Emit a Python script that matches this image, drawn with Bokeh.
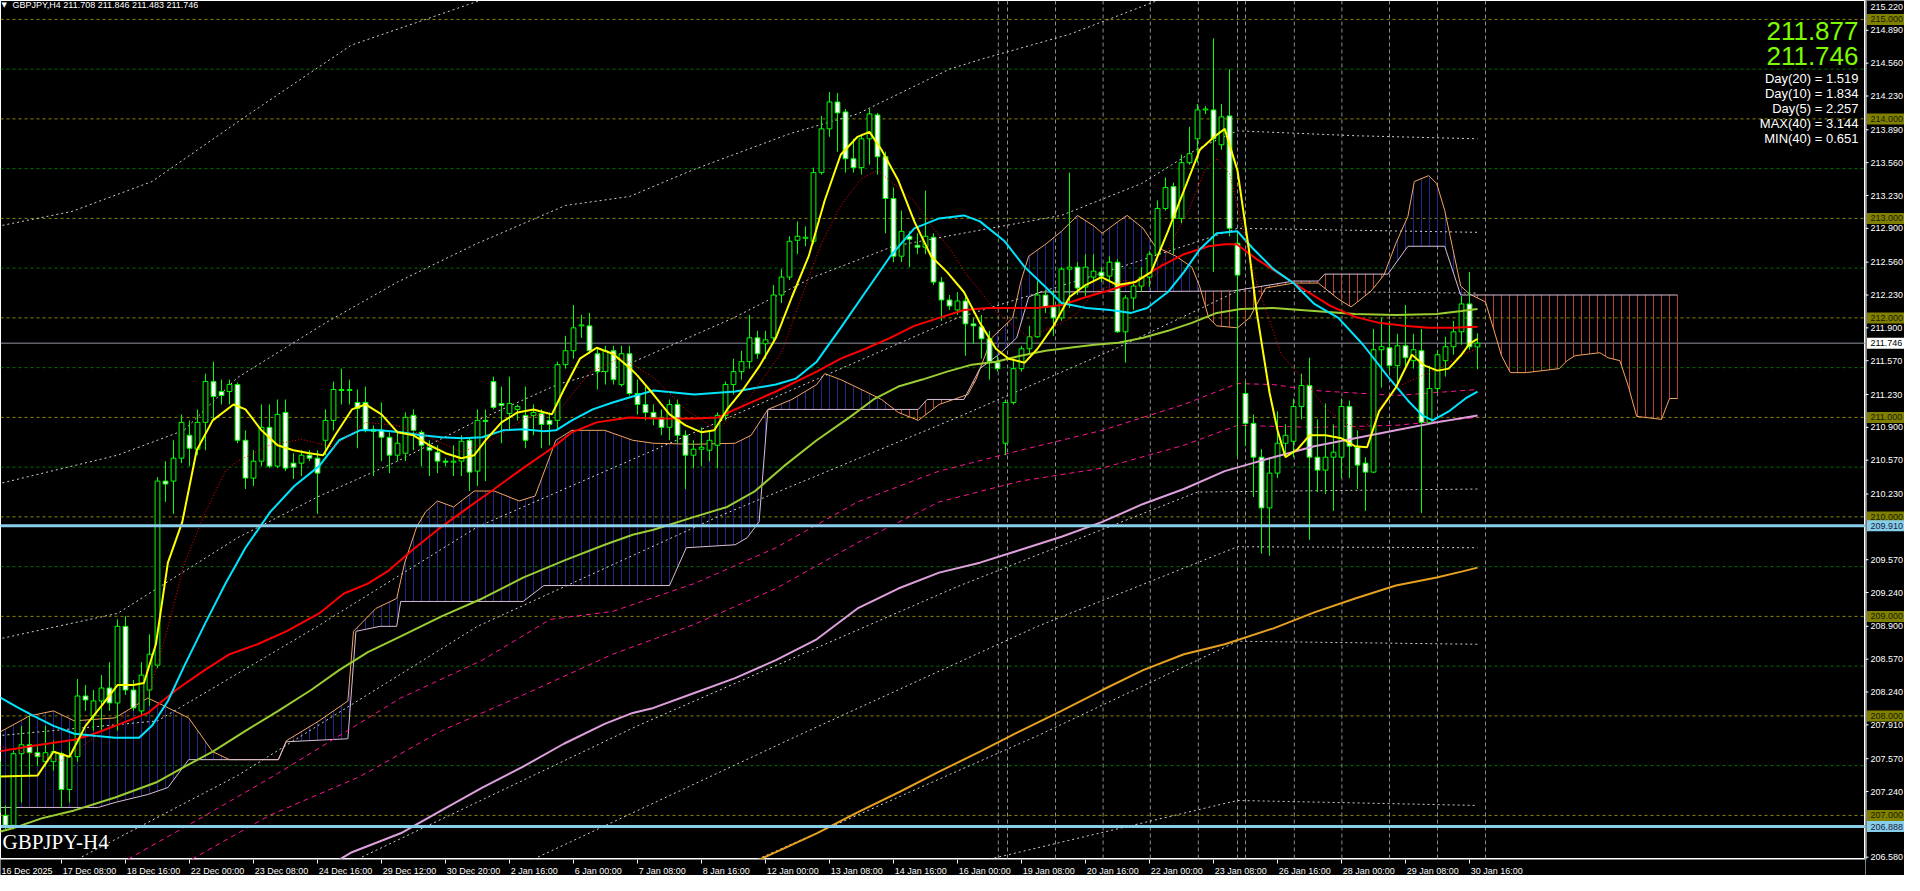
import numpy as np
from bokeh.plotting import figure
from bokeh.models import Range1d, Span
from bokeh.layouts import row, column
from bokeh.embed import file_html
from bokeh.resources import INLINE
from bokeh.core.properties import value

# ---------------------------------------------------------------- data
header_text = "GBPJPY,H4  211.708 211.846 211.483 211.746"
chart_name = "GBPJPY-H4"
big_prices = ["211.877", "211.746"]
stats_lines = ["Day(20) = 1.519", "Day(10) = 1.834", "Day(5) = 2.257",
               "MAX(40) = 3.144", "MIN(40) = 0.651"]

time_labels = ["16 Dec 2025", "17 Dec 08:00", "18 Dec 16:00", "22 Dec 00:00",
               "23 Dec 08:00", "24 Dec 16:00", "29 Dec 12:00", "30 Dec 20:00",
               "2 Jan 16:00", "6 Jan 00:00", "7 Jan 08:00", "8 Jan 16:00",
               "12 Jan 00:00", "13 Jan 08:00", "14 Jan 16:00", "16 Jan 00:00",
               "19 Jan 08:00", "20 Jan 16:00", "22 Jan 00:00", "23 Jan 08:00",
               "26 Jan 16:00", "28 Jan 00:00", "29 Jan 08:00", "30 Jan 16:00"]
time_label_bars = list(range(0, 8 * len(time_labels), 8))

price_ticks = [215.220, 214.890, 214.560, 214.230, 213.890, 213.560, 213.230,
               212.900, 212.560, 212.230, 211.900, 211.570, 211.230, 210.900,
               210.570, 210.230, 209.570, 209.240, 208.900, 208.570, 208.240,
               207.910, 207.570, 207.240, 206.580]
level_lines = [215.0, 214.0, 213.0, 212.0, 211.0, 210.0, 209.0, 208.0, 207.0]
half_lines = [214.5, 213.5, 212.5, 211.5, 210.5, 209.5, 208.5, 207.5]
support_lines = [209.910, 206.888]
last_price = 211.746
day_separators = [125.1, 126.25, 132.25, 138.2, 144.1, 150.1, 155.0, 156.0,
                  162.1, 168.05, 174.0, 180.0, 186.0]

opens = [
    207.54, 207.00, 206.90, 207.62, 207.71, 207.63, 207.54, 207.54, 207.62, 207.26,
    207.59, 208.20, 208.00, 208.15, 208.28, 208.13, 208.90, 208.26, 208.05, 208.26,
    208.51, 210.36, 210.36, 210.59, 210.82, 210.68, 210.95, 211.36, 211.26, 211.26,
    211.33, 210.77, 210.39, 210.56, 210.90, 210.51, 211.05, 210.54, 210.54, 210.62,
    210.59, 210.77, 210.97, 211.28, 211.27, 211.15, 211.15, 210.88, 210.87, 210.80,
    210.62, 210.64, 211.02, 210.85, 210.70, 210.65, 210.56, 210.55, 210.56, 210.77,
    210.46, 210.97, 211.36, 211.14, 211.04, 211.08, 211.02, 211.02, 211.04, 210.97,
    210.97, 211.53, 211.67, 211.92, 211.92, 211.64, 211.46, 211.67, 211.33, 211.64,
    211.24, 211.13, 211.05, 211.00, 210.90, 211.13, 210.82, 210.62, 210.68, 210.67,
    210.72, 211.02, 211.33, 211.46, 211.56, 211.80, 211.74, 211.80, 212.23, 212.41,
    212.78, 212.80, 212.77, 213.46, 213.90, 214.17, 214.07, 213.60, 213.51, 213.80,
    214.04, 213.62, 213.20, 212.62, 212.82, 212.73, 212.71, 212.81, 212.36, 212.18,
    212.08, 212.17, 211.94, 211.91, 211.79, 211.55, 210.74, 211.15, 211.49, 211.69,
    211.81, 212.23, 212.11, 212.00, 212.49, 212.51, 212.31, 212.41, 212.46, 212.42,
    212.56, 211.86, 212.20, 212.32, 212.41, 212.64, 213.10, 213.32, 213.00, 213.56,
    213.80, 214.09, 214.09, 213.74, 214.03, 212.75, 211.24, 210.94, 210.60, 210.09,
    210.44, 210.74, 210.76, 211.11, 211.32, 210.60, 210.47, 210.60, 210.60, 211.11,
    210.70, 210.54, 210.45, 211.68, 211.70, 211.52, 211.72, 211.57, 211.67, 210.95,
    211.29, 211.57, 211.71, 211.86, 212.14, 211.708]
highs = [
    207.60, 207.10, 207.65, 207.90, 208.00, 207.70, 207.90, 207.75, 207.64, 207.74,
    208.37, 208.31, 208.26, 208.41, 208.54, 208.97, 209.00, 208.36, 208.54, 208.82,
    210.40, 210.56, 210.77, 211.03, 210.97, 211.08, 211.44, 211.56, 211.38, 211.38,
    211.35, 210.87, 210.67, 211.13, 211.13, 211.18, 211.18, 210.64, 210.67, 210.67,
    210.67, 211.08, 211.36, 211.49, 211.38, 211.28, 211.31, 210.92, 211.15, 210.85,
    210.87, 211.05, 211.08, 210.87, 210.77, 210.72, 210.59, 210.72, 210.82, 210.80,
    211.08, 211.08, 211.41, 211.31, 211.41, 211.13, 211.31, 211.13, 211.08, 211.05,
    211.56, 211.82, 212.13, 212.03, 212.05, 211.69, 211.72, 211.72, 211.72, 211.72,
    211.38, 211.31, 211.13, 211.08, 211.18, 211.18, 210.87, 210.77, 210.90, 210.87,
    211.05, 211.36, 211.59, 211.67, 212.03, 211.87, 211.87, 212.33, 212.49, 212.82,
    212.97, 212.92, 213.51, 214.03, 214.27, 214.26, 214.10, 213.80, 213.85, 214.10,
    214.06, 213.67, 213.31, 213.08, 212.87, 212.85, 213.28, 212.85, 212.41, 212.23,
    212.26, 212.21, 212.00, 212.03, 211.87, 211.62, 211.18, 211.59, 211.72, 211.92,
    212.37, 212.28, 212.28, 212.51, 213.46, 212.56, 212.64, 212.64, 212.51, 212.62,
    212.59, 212.23, 212.36, 212.51, 212.67, 213.18, 213.41, 213.36, 213.64, 213.92,
    214.15, 214.13, 214.81, 214.15, 214.50, 212.85, 211.36, 211.03, 210.68, 210.60,
    211.06, 210.93, 211.19, 211.44, 211.60, 210.98, 211.14, 210.93, 211.19, 211.17,
    210.87, 210.60, 211.89, 212.00, 211.97, 211.84, 212.13, 211.84, 211.89, 211.52,
    211.68, 211.81, 211.97, 212.22, 212.46, 211.846]
lows = [
    206.98, 206.86, 206.86, 207.13, 207.39, 207.50, 207.49, 207.45, 207.08, 207.13,
    207.54, 208.05, 207.85, 207.85, 208.05, 207.85, 208.21, 208.05, 208.00, 208.10,
    208.48, 210.15, 210.03, 210.54, 210.51, 210.62, 210.67, 210.97, 211.13, 211.13,
    210.74, 210.28, 210.31, 210.51, 210.49, 210.49, 210.46, 210.38, 210.41, 210.56,
    210.03, 210.62, 210.87, 211.13, 211.13, 210.69, 210.85, 210.41, 210.56, 210.44,
    210.56, 210.56, 210.67, 210.51, 210.41, 210.44, 210.51, 210.41, 210.41, 210.26,
    210.31, 210.36, 211.08, 210.74, 210.87, 210.97, 210.69, 210.82, 210.69, 210.72,
    210.87, 211.49, 211.59, 211.80, 211.64, 211.28, 211.33, 211.33, 211.31, 211.22,
    211.03, 210.97, 210.92, 210.82, 210.77, 210.74, 210.28, 210.49, 210.51, 210.56,
    210.49, 210.97, 211.23, 211.38, 211.49, 211.59, 211.59, 211.74, 212.15, 212.38,
    212.64, 212.72, 212.74, 213.44, 213.82, 213.67, 213.46, 213.46, 213.44, 213.54,
    213.44, 212.85, 212.56, 212.56, 212.51, 212.64, 212.64, 212.33, 211.97, 212.08,
    212.03, 211.62, 211.74, 211.59, 211.38, 211.46, 210.62, 211.13, 211.46, 211.64,
    211.80, 212.05, 211.82, 211.97, 212.10, 212.23, 212.21, 212.38, 212.36, 212.36,
    211.85, 211.55, 212.08, 212.26, 212.31, 212.62, 213.08, 212.64, 212.95, 213.54,
    213.56, 214.05, 212.46, 213.69, 212.82, 210.60, 210.71, 210.20, 209.63, 209.61,
    210.39, 210.60, 210.60, 210.98, 209.77, 210.25, 210.23, 210.06, 210.39, 210.39,
    210.28, 210.06, 210.44, 211.30, 211.46, 211.30, 211.52, 211.49, 210.04, 210.93,
    211.25, 211.41, 211.63, 211.73, 211.68, 211.483]
closes = [
    207.03, 206.90, 207.62, 207.71, 207.63, 207.59, 207.63, 207.64, 207.26, 207.59,
    208.20, 208.16, 208.15, 208.28, 208.13, 208.90, 208.26, 208.08, 208.41, 208.62,
    210.36, 210.33, 210.59, 210.95, 210.69, 210.95, 211.36, 211.21, 211.22, 211.33,
    210.77, 210.39, 210.56, 210.90, 210.51, 211.03, 210.49, 210.50, 210.62, 210.59,
    210.44, 210.97, 211.28, 211.27, 211.28, 211.09, 210.87, 210.86, 210.80, 210.62,
    210.74, 211.00, 210.87, 210.72, 210.67, 210.56, 210.55, 210.56, 210.76, 210.45,
    210.97, 210.96, 211.10, 211.12, 211.14, 211.11, 210.77, 211.05, 210.93, 210.93,
    211.53, 211.67, 211.90, 211.93, 211.67, 211.46, 211.67, 211.38, 211.64, 211.24,
    211.13, 211.05, 211.00, 210.90, 211.13, 210.82, 210.62, 210.68, 210.70, 210.77,
    211.02, 211.33, 211.46, 211.56, 211.80, 211.64, 211.78, 212.23, 212.41, 212.77,
    212.82, 212.81, 213.46, 213.90, 214.17, 214.06, 213.60, 213.51, 213.80, 214.05,
    213.62, 213.20, 212.62, 212.87, 212.79, 212.71, 212.82, 212.36, 212.18, 212.12,
    212.17, 211.94, 211.92, 211.79, 211.56, 211.49, 211.15, 211.49, 211.69, 211.81,
    212.23, 212.11, 212.00, 212.49, 212.51, 212.30, 212.51, 212.47, 212.42, 212.56,
    211.86, 212.20, 212.32, 212.41, 212.64, 213.10, 213.31, 213.00, 213.56, 213.65,
    214.09, 214.10, 213.80, 214.02, 212.90, 212.43, 210.94, 210.60, 210.09, 210.44,
    210.74, 210.82, 211.11, 211.32, 210.60, 210.47, 210.60, 210.65, 211.11, 210.71,
    210.52, 210.45, 211.68, 211.71, 211.52, 211.72, 211.60, 211.68, 210.95, 211.29,
    211.63, 211.71, 211.86, 212.14, 211.71, 211.746]

# indicator lines: (bar index, price)
ma_fast_yellow = [(0, 207.39), (5, 207.40), (7, 207.64), (9, 207.59), (11, 207.90), (13, 208.10),
    (15, 208.31), (17, 208.31), (18.3, 208.33), (19.8, 208.72), (21.3, 209.54), (23.1, 209.95),
    (24.9, 210.67), (26.9, 210.97), (29.5, 211.13), (31, 211.08), (33, 210.87), (35, 210.72),
    (37, 210.67), (39, 210.64), (40.7, 210.62), (42.2, 210.82), (44.3, 211.08), (46, 211.13),
    (48, 211.03), (50, 210.85), (52, 210.82), (54, 210.72), (56, 210.64), (58, 210.59),
    (59.6, 210.62), (61, 210.77), (63, 210.95), (65, 211.05), (67, 211.08), (69.3, 211.03),
    (70.8, 211.28), (72.8, 211.59), (74.9, 211.70), (76.9, 211.64), (79, 211.50), (80, 211.42),
    (82, 211.23), (84, 211.03), (86, 210.92), (88, 210.85), (89.6, 210.87), (91.2, 211.08),
    (93.2, 211.28), (95.2, 211.51), (97.3, 211.80), (99.3, 212.21), (101.4, 212.62), (103.4, 213.18),
    (105.4, 213.64), (107.5, 213.82), (109, 213.87), (110.5, 213.69), (112.6, 213.38), (114.6, 212.97),
    (116.7, 212.62), (118.7, 212.46), (120.8, 212.26), (122.8, 211.95), (124.8, 211.69), (126.4, 211.59),
    (128.4, 211.55), (130, 211.69), (132, 211.92), (134, 212.21), (136, 212.33), (138, 212.41),
    (140, 212.33), (142.2, 212.36), (144.2, 212.46), (146.3, 212.87), (148.3, 213.28), (150.3, 213.69),
    (152.1, 213.82), (153.4, 213.90), (155, 213.48), (156.4, 212.70), (157.4, 212.06), (159, 211.25),
    (160, 210.87), (161, 210.60), (162.5, 210.68), (164, 210.82), (166, 210.82), (168, 210.79),
    (169.7, 210.71), (171.2, 210.70), (172.7, 211.06), (174.8, 211.30), (176.8, 211.63), (178.4, 211.52),
    (180, 211.47), (181.4, 211.49), (183, 211.63), (184, 211.74), (185, 211.79)]
ma_red_dotted = [(0, 207.70), (8, 207.55), (16, 208.0), (19, 208.25), (21, 208.8), (23.4, 209.54),
    (26, 210.05), (28.5, 210.46), (30, 210.56), (34, 210.72), (38, 210.78), (42, 210.70), (46, 210.95),
    (50, 210.92), (54, 210.80), (58, 210.65), (62, 210.78), (66, 211.0), (70, 211.05), (74, 211.45),
    (78, 211.60), (82, 211.40), (86, 211.08), (90, 210.87), (94, 211.20), (98, 211.65), (100, 212.10),
    (103, 212.75), (105.4, 213.13), (108, 213.40), (110, 213.48), (112, 213.35), (114.5, 213.18),
    (117, 212.90), (119, 212.70), (121, 212.45), (123, 212.25), (125, 212.05), (127, 211.92),
    (129, 211.80), (131, 211.88), (133, 211.95), (135, 212.05), (137, 212.25), (139, 212.32),
    (141, 212.38), (143, 212.30), (145, 212.45), (147, 212.80), (149, 213.10), (151, 213.50),
    (152.5, 213.60), (154, 213.45), (156, 212.80), (157.5, 212.32), (160.5, 211.63), (163.5, 211.36),
    (166, 211.09), (168.7, 210.93), (170.7, 210.87), (172.7, 211.09), (174.8, 211.30), (177.8, 211.41),
    (180.9, 211.52), (183, 211.63), (185, 211.69)]
ma_cyan = [(0, 208.20), (2.4, 208.09), (4.5, 208.0), (7, 207.90), (9.6, 207.82), (12.1, 207.80),
    (14.7, 207.78), (17.7, 207.78), (19.3, 207.90), (21.3, 208.15), (23.4, 208.51), (25.9, 208.92),
    (28.5, 209.33), (31, 209.69), (34.1, 210.05), (37.1, 210.31), (40.2, 210.51), (42.7, 210.77),
    (45.3, 210.87), (47.8, 210.87), (50.4, 210.85), (53, 210.82), (55.5, 210.80), (58.1, 210.79),
    (60.6, 210.80), (63.2, 210.87), (65.7, 210.88), (68.3, 210.86), (69.8, 210.87), (71.8, 210.97),
    (74.4, 211.08), (76.9, 211.15), (79.4, 211.21), (82, 211.27), (87.1, 211.23), (92.2, 211.26),
    (97.3, 211.33), (99.8, 211.39), (102.4, 211.56), (105.4, 211.90), (108.5, 212.26), (111.6, 212.62),
    (114.6, 212.90), (117.7, 213.0), (120.8, 213.03), (122.8, 212.97), (125.9, 212.77), (128.4, 212.51),
    (131, 212.31), (133, 212.15), (136.1, 212.10), (139.1, 212.08), (141.7, 212.05), (143.7, 212.10),
    (146.3, 212.26), (148.3, 212.46), (150.3, 212.69), (152.4, 212.85), (155, 212.87), (156.9, 212.70),
    (159.5, 212.49), (162, 212.35), (164.6, 212.14), (167.6, 212.0), (170.7, 211.73), (173.8, 211.41),
    (176.3, 211.17), (178.1, 211.02), (179.4, 210.97), (181.4, 211.06), (183.5, 211.19), (185, 211.26)]
ma_red = [(-0.1, 207.64), (4.5, 207.70), (9.6, 207.76), (12.1, 207.82), (14.7, 207.90), (18.8, 208.03),
    (22.3, 208.26), (25.9, 208.46), (29, 208.62), (32.5, 208.72), (36.1, 208.85), (40.2, 209.03),
    (43.3, 209.23), (46.3, 209.33), (48.9, 209.46), (51.9, 209.67), (55.5, 209.90), (58.6, 210.08),
    (62.1, 210.28), (65.7, 210.49), (69.3, 210.69), (71.8, 210.85), (74.9, 210.95), (79, 211.0),
    (82, 210.99), (87.1, 210.99), (90.1, 211.0), (92.2, 211.08), (97.3, 211.26), (102.4, 211.46),
    (105.4, 211.59), (108.5, 211.69), (111.6, 211.80), (114.6, 211.92), (117.7, 212.0), (120.8, 212.08),
    (123.8, 212.10), (126.9, 212.10), (129.9, 212.10), (133, 212.13), (136.1, 212.21), (139.1, 212.28),
    (142.2, 212.36), (145.2, 212.51), (148.3, 212.64), (151.4, 212.72), (153.4, 212.74), (154.9, 212.74),
    (157.4, 212.59), (160.5, 212.43), (163.6, 212.27), (166.6, 212.12), (169.7, 212.01), (172.7, 211.95),
    (175.8, 211.92), (178.9, 211.90), (181.9, 211.90), (185, 211.91)]
ma_yellowgreen = [(-0.5, 206.82), (1.9, 206.87), (5.5, 206.97), (9.6, 207.05), (14.7, 207.18),
    (19.8, 207.33), (23.4, 207.49), (26.9, 207.64), (31, 207.85), (35.1, 208.05), (39.2, 208.26),
    (42.7, 208.46), (46.3, 208.64), (50.4, 208.80), (55.5, 209.0), (60.6, 209.18), (65.7, 209.39),
    (70.8, 209.56), (75.9, 209.72), (79.4, 209.82), (82, 209.87), (87.1, 210.0), (91.2, 210.10),
    (94.7, 210.26), (98.3, 210.51), (102.4, 210.77), (106.5, 211.0), (109.5, 211.18), (112.6, 211.31),
    (115.6, 211.38), (118.7, 211.46), (121.8, 211.53), (124.8, 211.56), (127.9, 211.62), (131, 211.67),
    (134, 211.70), (137.1, 211.73), (140.1, 211.75), (143.2, 211.80), (146.3, 211.87), (149.3, 211.95),
    (152.4, 212.05), (155.4, 212.09), (159.5, 212.10), (164.6, 212.07), (169.7, 212.04), (174.8, 212.03),
    (179.9, 212.04), (183, 212.07), (185, 212.09)]
ma_plum = [(42.2, 206.53), (44.3, 206.63), (50.4, 206.82), (55.5, 207.05), (60.6, 207.28),
    (65.7, 207.49), (70.8, 207.72), (75.9, 207.92), (79.4, 208.03), (82, 208.08), (87.1, 208.23),
    (92.2, 208.38), (97.3, 208.56), (102.4, 208.77), (107.5, 209.08), (112.6, 209.28), (117.7, 209.44),
    (122.8, 209.54), (127.9, 209.67), (133, 209.80), (138.1, 209.95), (143.2, 210.13), (148.3, 210.28),
    (153.4, 210.46), (156.9, 210.54), (159.5, 210.60), (164.6, 210.71), (169.7, 210.79), (174.8, 210.87),
    (179.9, 210.95), (185, 211.02)]
ma_orange = [(94.5, 206.53), (97.3, 206.63), (102.4, 206.82), (107.5, 207.03), (112.6, 207.23),
    (117.7, 207.44), (122.8, 207.64), (127.9, 207.85), (133, 208.05), (138.1, 208.26), (143.2, 208.46),
    (148.3, 208.62), (153.4, 208.72), (159.5, 208.88), (164.6, 209.04), (169.7, 209.18), (174.8, 209.31),
    (179.9, 209.39), (183, 209.45), (185, 209.49)]
env_magenta_upper = [(16.3, 206.56), (26, 207.0), (35, 207.42), (50.4, 208.18), (60.6, 208.56),
    (69.1, 208.97), (76.9, 209.05), (87.1, 209.33), (97.3, 209.69), (107.5, 210.15), (117.7, 210.46),
    (127.9, 210.67), (138.1, 210.87), (148.3, 211.13), (155, 211.34), (159.5, 211.33), (164.6, 211.27),
    (174.8, 211.22), (185, 211.28)]
env_magenta_lower = [(24.3, 206.56), (34, 207.0), (45.3, 207.39), (55.5, 207.85), (65.7, 208.21),
    (76.9, 208.62), (87.1, 208.92), (97.3, 209.28), (107.5, 209.74), (117.7, 210.15), (127.9, 210.36),
    (138.1, 210.49), (148.3, 210.72), (155, 210.92), (164.6, 210.90), (174.8, 210.92), (185, 211.0)]
dotted_bands = [
    [(0, 212.92), (9.3, 213.07), (19.3, 213.37), (31.3, 214.04), (44.2, 214.74), (62.1, 215.24), (66, 215.3)],
    [(0, 210.33), (15, 210.62), (23.3, 210.87), (30, 211.40), (41, 211.95), (50, 212.36), (60, 212.75),
     (71, 213.13), (79, 213.22), (87, 213.49), (99, 213.85), (107.5, 214.05), (119, 214.50), (123, 214.6),
     (134, 214.85), (146, 215.22), (150, 215.35)],
    [(0, 208.77), (15, 209.03), (30, 209.79), (40, 210.20), (50, 210.56), (60, 210.97), (70, 211.33),
     (79, 211.54), (92, 212.0), (102, 212.41), (112, 212.72), (122, 212.87), (133, 213.03), (143, 213.35),
     (150, 213.7), (155, 213.88), (170, 213.83), (185, 213.80)],
    [(0, 207.80), (20, 207.95), (40, 208.9), (60, 209.9), (80, 210.6), (100, 211.3), (120, 212.0),
     (140, 212.5), (155, 212.90), (185, 212.86)],
    [(10, 206.56), (30, 207.4), (60, 208.9), (90, 210.0), (120, 211.0), (140, 211.7), (155, 212.27), (185, 212.25)],
    [(45, 206.56), (80, 207.9), (120, 209.3), (150, 210.25), (185, 210.28)],
    [(67, 206.56), (100, 207.8), (130, 208.9), (155, 209.70), (185, 209.69)],
    [(95, 206.56), (130, 207.8), (155, 208.75), (185, 208.72)],
    [(124, 206.56), (155, 207.15), (185, 207.10)],
]
senkou_a = [(-0.1, 207.82), (4, 208.0), (7, 208.05), (9.6, 207.95), (14.7, 207.98), (18.8, 208.18),
    (23.9, 207.98), (26.9, 207.64), (29, 207.56), (35.1, 207.56), (36.1, 207.75), (40.2, 207.95),
    (43.8, 208.15), (44.5, 208.85), (47.3, 209.08), (49.9, 209.18), (50.9, 209.54), (52.4, 209.90),
    (53.5, 210.05), (55, 210.16), (57, 210.10), (59.6, 210.26), (62.1, 210.26), (65.2, 210.16),
    (67.2, 210.21), (69.8, 210.77), (71.8, 210.87), (75.9, 210.87), (79.4, 210.77), (82, 210.74),
    (87.1, 210.73), (92.2, 210.74), (94.2, 210.82), (96.3, 211.08), (99.3, 211.18), (102.4, 211.33),
    (103.4, 211.44), (105.4, 211.38), (108.5, 211.26), (110.5, 211.18), (112.6, 211.05), (115.1, 210.97),
    (117.7, 211.13), (121.3, 211.23), (122.3, 211.38), (124.3, 211.80), (126.9, 212.0), (127.9, 212.36),
    (128.9, 212.62), (131, 212.74), (133, 212.87), (135, 213.03), (137.1, 212.92), (138.1, 212.85),
    (140.1, 212.97), (141.2, 213.03), (143.2, 212.90), (144.7, 212.72), (147.3, 212.62), (149.3, 212.51),
    (150.3, 212.31), (151.4, 212.0), (152.4, 211.92), (155, 211.90), (156.5, 212.0), (158.5, 212.30),
    (162, 212.35), (165.1, 212.35), (167.6, 212.19), (169.2, 212.11), (171.7, 212.27), (173.3, 212.43),
    (174.8, 212.75), (176.3, 213.02), (177.1, 213.37), (178.9, 213.43), (179.9, 213.35), (180.9, 213.08),
    (181.9, 212.70), (182.9, 212.32), (184, 212.24), (186, 212.16), (187, 211.89), (188, 211.62),
    (189.1, 211.45), (191.1, 211.45), (195.2, 211.49), (196.2, 211.57), (197.2, 211.62), (200.3, 211.65),
    (201.3, 211.60), (202.8, 211.57), (203.9, 211.30), (204.9, 211.01), (208, 210.98), (209, 211.19),
    (210, 211.19)]
senkou_b = [(-0.1, 207.08), (12.6, 207.08), (14.7, 207.13), (18.8, 207.21), (21.3, 207.28),
    (23.9, 207.56), (35.1, 207.56), (36.1, 207.74), (43.8, 207.77), (44.8, 208.85), (47.8, 208.90),
    (49.9, 208.90), (50.4, 209.15), (65.7, 209.15), (68.3, 209.31), (84, 209.31), (86.1, 209.69),
    (92.2, 209.72), (93.7, 209.79), (95.2, 209.95), (96.3, 211.08), (115.1, 211.08), (116.2, 211.18),
    (120.8, 211.18), (122.8, 211.49), (125.3, 211.64), (127.4, 211.80), (128.9, 212.21), (130.4, 212.26),
    (154.4, 212.27), (162, 212.37), (165.1, 212.37), (165.9, 212.44), (173.8, 212.44), (176.3, 212.72),
    (180.9, 212.72), (182.9, 212.23), (210, 212.23)]

# ---------------------------------------------------------------- geometry helpers
# reference chart: bar i centred at x = 5 + 8*i px, price p at y = 5 + (215.22 - p)*99.5 px
BAR_PX, PX_PER_UNIT, P_TOP = 8.0, 99.5, 215.22
def rx(px):
    return (px - 5) / BAR_PX
def ry(py):
    return P_TOP - (py - 5) / PX_PER_UNIT

MAIN_W, MAIN_H, AX_W, AX_H = 1865, 859, 39, 16
FONT = value("Liberation Sans")

main = figure(width=MAIN_W, height=MAIN_H, output_backend="svg", toolbar_location=None, tools="",
              x_range=Range1d(rx(8), rx(8 + MAIN_W)), y_range=Range1d(ry(8 + MAIN_H), ry(8)),
              x_axis_location=None, y_axis_location=None, min_border=0,
              background_fill_color="black", border_fill_color="black",
              outline_line_color="white", outline_line_width=1)
main.grid.visible = False

for lv in level_lines:
    main.add_layout(Span(location=lv, dimension="width", line_color="#8a8a00",
                         line_dash="3 3", line_width=1, level="underlay"))
for lv in half_lines:
    main.add_layout(Span(location=lv, dimension="width", line_color="#007000",
                         line_dash="3 3", line_width=1, level="underlay"))
for xv in day_separators:
    main.add_layout(Span(location=xv, dimension="height", line_color="#8c8c8c",
                         line_dash="4 3", line_width=1, level="underlay"))
main.add_layout(Span(location=last_price, dimension="width", line_color="#8f96a0",
                     line_width=1, level="underlay"))

# ichimoku cloud hatching
ax_, ay_ = zip(*senkou_a)
bx_, by_ = zip(*senkou_b)
bars_c = np.arange(0, int(max(ax_)) + 1)
a_i = np.interp(bars_c, ax_, ay_)
b_i = np.interp(bars_c, bx_, by_)
up = a_i >= b_i
main.segment(bars_c[up], a_i[up], bars_c[up], b_i[up], line_color="#24248f", line_width=1)
main.segment(bars_c[~up], a_i[~up], bars_c[~up], b_i[~up], line_color="#b5432e", line_width=1)
main.line(list(ax_), list(ay_), line_color="#f4a460", line_width=1)
main.line(list(bx_), list(by_), line_color="#d8bfd8", line_width=1)

for band in dotted_bands:
    xs, ys = zip(*band)
    main.line(list(xs), list(ys), line_color="#cfcfcf", line_dash="2 3", line_width=1)
for env in (env_magenta_upper, env_magenta_lower):
    xs, ys = zip(*env)
    main.line(list(xs), list(ys), line_color="#ff1493", line_dash="5 4", line_width=1)

# candles
o = np.array(opens); h = np.array(highs); l = np.array(lows); c = np.array(closes)
xb = np.arange(len(o))
bull = c >= o
main.segment(xb, h, xb, l, line_color="#00ff00", line_width=1)
main.vbar(x=xb, width=0.6, top=np.maximum(o, c), bottom=np.minimum(o, c),
          fill_color=np.where(bull, "black", "white").tolist(), line_color="#00ff00", line_width=1)

for series, col, wd, dash in [(ma_orange, "#e6a020", 2, "solid"), (ma_plum, "#dda0dd", 2, "solid"),
                              (ma_yellowgreen, "#9acd32", 2, "solid"), (ma_red, "#ff0000", 2, "solid"),
                              (ma_cyan, "#00e5ff", 2, "solid"), (ma_red_dotted, "#ff0000", 1, "1 2"),
                              (ma_fast_yellow, "#ffff00", 2, "solid")]:
    xs, ys = zip(*series)
    main.line(list(xs), list(ys), line_color=col, line_width=wd, line_dash=dash)

for lv in support_lines:
    main.add_layout(Span(location=lv, dimension="width", line_color="#87ceeb", line_width=3))

# texts
main.text(x=[rx(9)], y=[ry(12)], text=["\u25bc"], text_font=value("DejaVu Sans"), text_font_size="7px",
          text_color="white", text_align="left", text_baseline="middle")
main.text(x=[rx(20)], y=[ry(12)], text=[header_text], text_font=FONT, text_font_size="9px",
          text_color="white", text_align="left", text_baseline="middle")
main.text(x=[rx(1866)] * 2, y=[ry(38), ry(63)], text=big_prices, text_font=FONT,
          text_font_size="26px", text_color="#7cfc00", text_align="right", text_baseline="alphabetic")
main.text(x=[rx(1866)] * len(stats_lines), y=[ry(86), ry(101), ry(116), ry(131), ry(146)],
          text=stats_lines, text_font=FONT, text_font_size="13px", text_color="white",
          text_align="right", text_baseline="alphabetic")
main.text(x=[rx(10)], y=[ry(849)], text=[chart_name], text_font=value("Liberation Serif"),
          text_font_size="21px", text_color="white", text_align="left", text_baseline="middle")

# bottom time axis
bottom = figure(width=MAIN_W, height=AX_H, output_backend="svg", toolbar_location=None, tools="",
                x_range=main.x_range, y_range=Range1d(0, AX_H), x_axis_location=None,
                y_axis_location=None, min_border=0, background_fill_color="black",
                border_fill_color="black", outline_line_color=None)
bottom.grid.visible = False
bottom.segment(time_label_bars, [AX_H] * len(time_label_bars), time_label_bars,
               [AX_H - 4] * len(time_label_bars), line_color="white", line_width=1)
lab_x = [max(b + 0.15, rx(9)) for b in time_label_bars]
bottom.text(x=lab_x, y=[5] * len(time_labels), text=time_labels, text_font=FONT, text_font_size="9px",
            text_color="white", text_align="left", text_baseline="middle")

# right price axis
right = figure(width=AX_W, height=MAIN_H + AX_H, output_backend="svg", toolbar_location=None, tools="",
               x_range=Range1d(0, AX_W), y_range=Range1d(ry(8 + MAIN_H + AX_H), ry(8)),
               x_axis_location=None, y_axis_location=None, min_border=0,
               background_fill_color="black", border_fill_color="black", outline_line_color=None)
right.grid.visible = False
right.segment([0.5], [ry(8)], [0.5], [ry(8 + MAIN_H)], line_color="white", line_width=1)
right.segment([0] * len(price_ticks), price_ticks, [3] * len(price_ticks), price_ticks,
              line_color="white", line_width=1)
label_y = [min(v, ry(14)) for v in price_ticks]       # keep the top label inside the page
right.text(x=[5] * len(price_ticks), y=label_y, text=["%.3f" % v for v in price_ticks],
           text_font=FONT, text_font_size="9px", text_color="white", text_align="left",
           text_baseline="middle")
box_h = 11 / PX_PER_UNIT
right.rect(x=[20.5] * len(level_lines), y=level_lines, width=38, height=box_h,
           fill_color="#808000", line_color=None)
right.text(x=[5] * len(level_lines), y=level_lines, text=["%.3f" % v for v in level_lines],
           text_font=FONT, text_font_size="9px", text_color="#1a1a00", text_align="left",
           text_baseline="middle")
right.rect(x=[20.5], y=[last_price], width=38, height=box_h, fill_color="white", line_color=None)
right.text(x=[5], y=[last_price], text=["%.3f" % last_price], text_font=FONT, text_font_size="9px",
           text_color="black", text_align="left", text_baseline="middle")
right.rect(x=[20.5] * 2, y=support_lines, width=38, height=box_h, fill_color="#87ceeb", line_color=None)
right.text(x=[5] * 2, y=support_lines, text=["%.3f" % v for v in support_lines], text_font=FONT,
           text_font_size="9px", text_color="#202040", text_align="left", text_baseline="middle")

layout = row(column(main, bottom), right)
open("out.html", "w").write(file_html(layout, INLINE))
